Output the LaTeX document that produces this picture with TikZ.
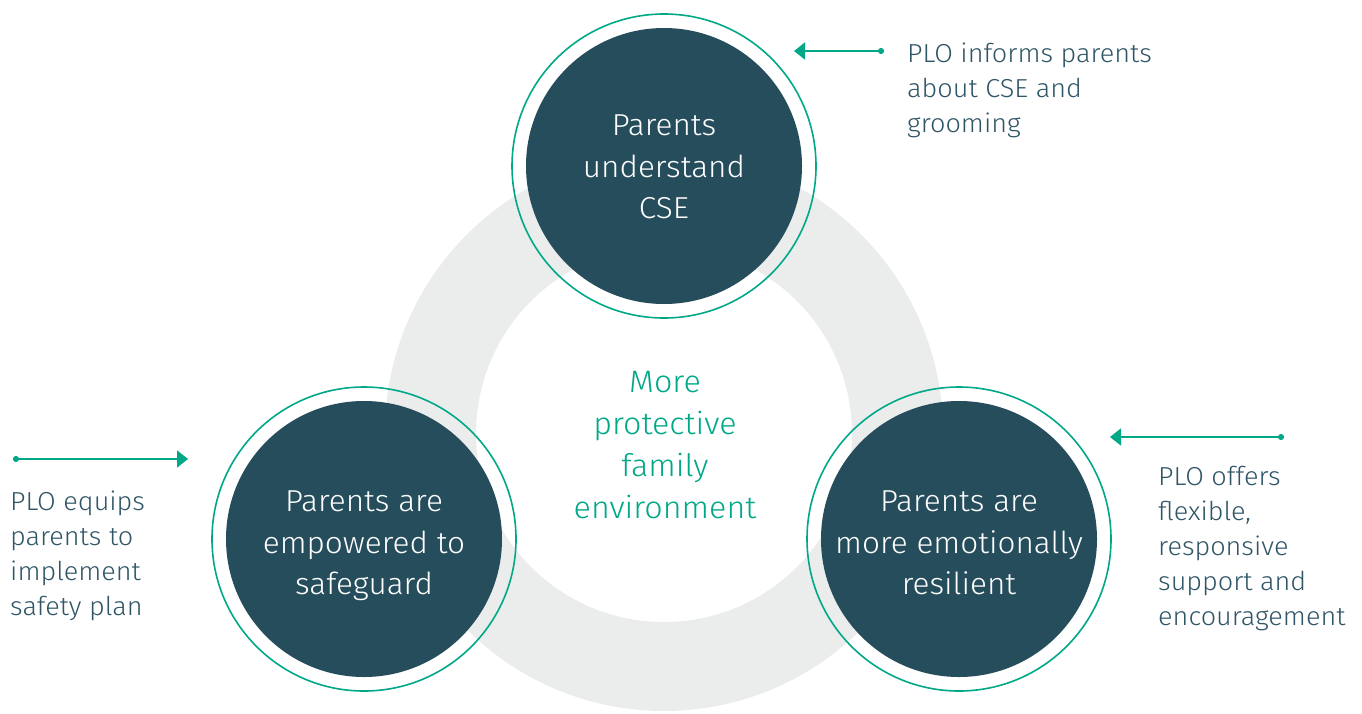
\documentclass[tikz,border=0pt]{standalone}
\usepackage{fontspec}
\setmainfont{Fira Sans Light}[FakeStretch=1.04]
\usetikzlibrary{arrows.meta}
\definecolor{dteal}{HTML}{264D5C}
\definecolor{pgreen}{HTML}{00A887}
\definecolor{ringgrey}{HTML}{EBEDEC}
\definecolor{sidetext}{HTML}{2F5566}
\tikzset{
  bigcirc/.style={circle,fill=dteal,minimum size=276pt,inner sep=0pt},
  circtext/.style={text=white,align=center,inner sep=0pt,font=\fontsize{30.3}{41.5}\selectfont},
  ringline/.style={draw=pgreen,line width=1.6pt},
  sidelabel/.style={anchor=west,inner sep=0pt,text=sidetext,align=left,
    font=\fontsize{26}{35}\selectfont},
  pointer/.style={draw=pgreen,line width=1.8pt,{Circle[length=6pt]}-{Triangle[length=11pt,width=17pt]}},
}
\begin{document}
\begin{tikzpicture}[x=1pt,y=-1pt]
\useasboundingbox (0,0) rectangle (1362,713);
\begin{scope}
\clip (0,0) rectangle (1362,713);
\fill[ringgrey,even odd rule] (664,432) circle[radius=279] (664,434) circle[radius=188];
\end{scope}
% outcome circles
\node[bigcirc,label={[circtext,yshift=-1pt]center:{Parents\\understand\\CSE}}] (cse) at (664,166) {};
\node[bigcirc,label={[circtext,yshift=-7pt]center:{Parents are\\empowered to\\safeguard}}] (safe) at (364,539) {};
\node[bigcirc,label={[circtext,yshift=-4pt]center:{Parents are\\more emotionally\\resilient}}] (resil) at (959,539) {};
\foreach \n in {cse,safe,resil}{\draw[ringline] (\n.center) circle[radius=152];}
% centre text
\node[text=pgreen,align=center,font=\fontsize{31}{42}\selectfont] (env) at (665,445)
  {More\\protective\\family\\environment};
% side labels
\node[sidelabel] (informs) at (907,90) {PLO informs parents\\about CSE and\\grooming};
\node[sidelabel] (equips) at (10,556) {PLO equips\\parents to\\implement\\safety plan};
\node[sidelabel] (offers) at (1158,548.5) {PLO offers\\flexible,\\responsive\\support and\\encouragement};
% pointers
\coordinate (a1s) at (884,51);  \coordinate (a1e) at (794,51);
\coordinate (a2s) at (13,459);  \coordinate (a2e) at (188,459);
\coordinate (a3s) at (1284,437);\coordinate (a3e) at (1110,437);
\draw[pointer] (a1s) -- (a1e);
\draw[pointer] (a2s) -- (a2e);
\draw[pointer] (a3s) -- (a3e);
\end{tikzpicture}
\end{document}
